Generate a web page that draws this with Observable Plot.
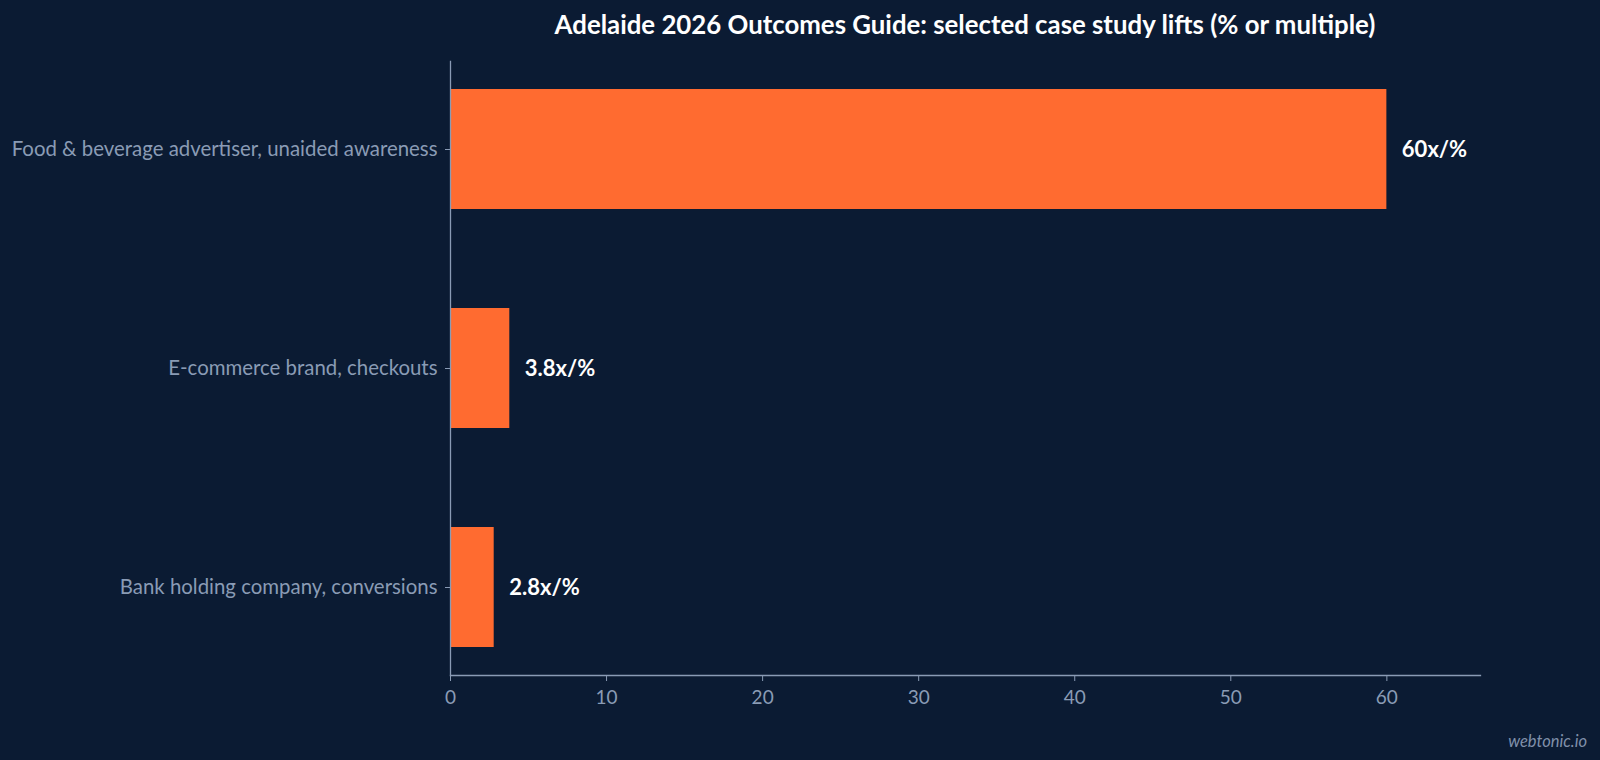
<!DOCTYPE html>
<html>
<head>
<meta charset="utf-8">
<script src="https://cdn.jsdelivr.net/npm/d3@7"></script>
<script src="https://cdn.jsdelivr.net/npm/@observablehq/plot@0.6"></script>
<style>
  html, body { margin: 0; padding: 0; background: #0b1b33; width: 1600px; height: 760px; overflow: hidden; font-family: Lato, "Noto Sans", sans-serif; }
  #title { position: absolute; left: 450px; width: 1030px; top: 8px; text-align: center; color: #ffffff; font-weight: 700; font-size: 25.8px; line-height: 32px; }
  #chart { position: absolute; left: 0; top: 48px; }
  #credit { position: absolute; right: 13px; bottom: 9px; color: #8090aa; font-style: italic; font-size: 16.5px; }
</style>
</head>
<body>
<div id="title">Adelaide 2026 Outcomes Guide: selected case study lifts (% or multiple)</div>
<div id="chart"></div>
<div id="credit">webtonic.io</div>
<script>
const categories = [
  "Food & beverage advertiser, unaided awareness",
  "E-commerce brand, checkouts",
  "Bank holding company, conversions"
];
const values = [60, 3.8, 2.8];
const valueLabels = ["60x/%", "3.8x/%", "2.8x/%"];
const xTicks = [0, 10, 20, 30, 40, 50, 60];

const data = categories.map((c, i) => ({category: c, value: values[i], label: valueLabels[i]}));

const axisColor = "#8a9bb5";

const chart = Plot.plot({
  width: 1600,
  height: 712,
  marginTop: 13,
  marginBottom: 85,
  marginLeft: 450,
  marginRight: 120,
  style: { background: "transparent", color: axisColor, fontFamily: "Lato, 'Noto Sans', sans-serif" },
  x: { domain: [0, 66], ticks: xTicks, label: null },
  y: { domain: categories, paddingInner: 0.45, paddingOuter: 0.123, label: null },
  marks: [
    Plot.barX(data, { x: "value", y: "category", fill: "#ff6b30" }),
    Plot.axisX({ ticks: xTicks, tickSize: 6, tickPadding: 9, fontSize: 19, stroke: axisColor, fill: axisColor, label: null }),
    Plot.axisY({ tickSize: 5, tickPadding: 8, fontSize: 20.4, stroke: axisColor, fill: axisColor, label: null }),
    Plot.frame({ anchor: "left", stroke: axisColor, strokeWidth: 1.3 }),
    Plot.frame({ anchor: "bottom", stroke: axisColor, strokeWidth: 1.3 }),
    Plot.text(data, { x: "value", y: "category", text: "label", dx: 15, textAnchor: "start", fill: "#ffffff", fontWeight: 700, fontSize: 22 })
  ]
});
document.getElementById("chart").appendChild(chart);
</script>
</body>
</html>
